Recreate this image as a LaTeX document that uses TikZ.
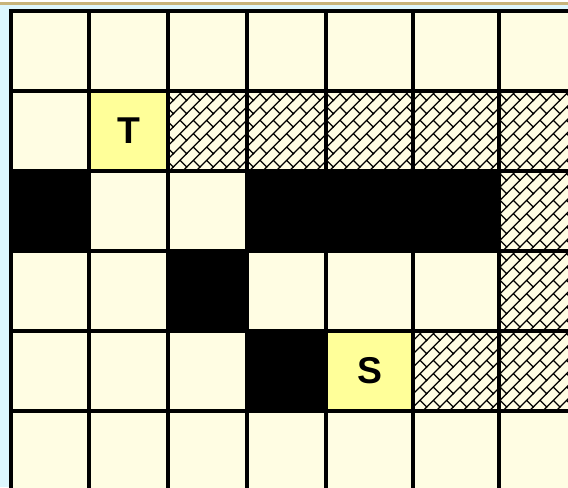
\documentclass[tikz,border=0pt]{standalone}
\usepackage{fontspec}
\setmainfont{Liberation Sans}
\usepackage{tikz}
\usetikzlibrary{patterns,calc}
\definecolor{cream}{HTML}{FFFDE3}
\definecolor{hilite}{HTML}{FFFF99}
\definecolor{sky}{HTML}{DDF7FE}
\definecolor{sand}{HTML}{C8B47A}

% diagonal brick hatching
\pgfdeclarepatternformonly{diagbricks}{\pgfqpoint{-1pt}{-1pt}}{\pgfqpoint{11pt}{11pt}}{\pgfqpoint{10pt}{10pt}}{
  \pgfsetlinewidth{0.9pt}
  \pgfpathmoveto{\pgfqpoint{-0.6pt}{-0.6pt}}
  \pgfpathlineto{\pgfqpoint{10.6pt}{10.6pt}}
  \pgfpathmoveto{\pgfqpoint{5pt}{5pt}}
  \pgfpathlineto{\pgfqpoint{10pt}{0pt}}
  \pgfusepath{stroke}
}

\tikzset{
  gridline/.style={line width=3pt,black,line cap=rect},
  wall/.style={fill=black},
  free/.style={fill=cream},
  goal/.style={fill=hilite},
  rough/.style={pattern=diagbricks,pattern color=black},
  letter/.style={font=\fontsize{28}{28}\selectfont\bfseries,inner sep=0pt}
}

\begin{document}
\begin{tikzpicture}[x=0.75pt,y=-0.75pt]
  \useasboundingbox (0,0) rectangle (568,487);
  \clip (0,0) rectangle (568,487);
  \fill[sky] (0,0) rectangle (568,487);
  \fill[white] (0,0) rectangle (568,1.6);
  \fill[sand] (0,1.6) rectangle (568,5);

  % column and row borders
  \foreach \x [count=\i from 0] in {10.5,89,168,247,326,413,499,600}
    \coordinate (c\i) at (\x,0);
  \foreach \y [count=\j from 0] in {11,91,171,251,331,411,500}
    \coordinate (r\j) at (0,\y);

  \fill[free] (c0 |- r0) rectangle (c7 |- r6);

  % start and target
  \fill[goal] (c1 |- r1) rectangle (c2 |- r2);
  \fill[goal] (c4 |- r4) rectangle (c5 |- r5);

  % walls
  \fill[wall] (c0 |- r2) rectangle (c1 |- r3);
  \fill[wall] (c3 |- r2) rectangle (c6 |- r3);
  \fill[wall] (c2 |- r3) rectangle (c3 |- r4);
  \fill[wall] (c3 |- r4) rectangle (c4 |- r5);

  % hatched cells
  \fill[rough] (c2 |- r1) rectangle (c7 |- r2);
  \fill[rough] (c6 |- r2) rectangle (c7 |- r4);
  \fill[rough] (c5 |- r4) rectangle (c7 |- r5);

  \foreach \i in {0,...,6}
    \draw[gridline] (c\i |- r0) -- (c\i |- r6);
  \foreach \j in {0,...,5}
    \draw[gridline] (c0 |- r\j) -- (c7 |- r\j);

  \node[letter] (T) at ($(c1 |- r1)!0.5!(c2 |- r2)$) {T};
  \node[letter] (S) at ($(c4 |- r4)!0.5!(c5 |- r5)$) {S};
\end{tikzpicture}
\end{document}
